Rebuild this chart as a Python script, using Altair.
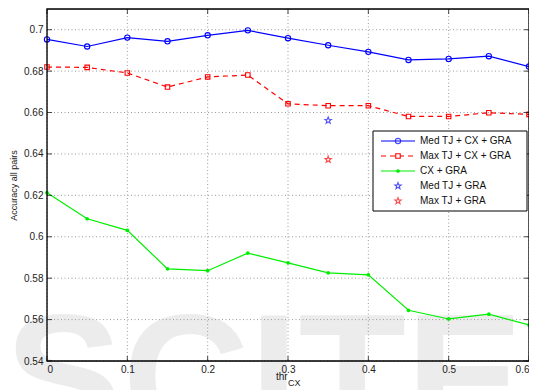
import math
import altair as alt
import pandas as pd

x_vals = [0, 0.05, 0.1, 0.15, 0.2, 0.25, 0.3, 0.35, 0.4, 0.45, 0.5, 0.55, 0.6]
med_cx_gra = [0.6953, 0.6919, 0.6962, 0.6944, 0.6973, 0.6997, 0.6959, 0.6925, 0.6893, 0.6854, 0.6859, 0.6872, 0.6822]
max_cx_gra = [0.6820, 0.6818, 0.6791, 0.6723, 0.6772, 0.6781, 0.6642, 0.6633, 0.6633, 0.6581, 0.6581, 0.6599, 0.6591]
cx_gra = [0.6213, 0.6087, 0.6031, 0.5845, 0.5836, 0.5921, 0.5874, 0.5826, 0.5816, 0.5645, 0.5603, 0.5626, 0.5574]
star_x = [0.35]
med_gra = [0.6562]
max_gra = [0.6373]

series_names = ["Med TJ + CX + GRA", "Max TJ + CX + GRA", "CX + GRA", "Med TJ + GRA", "Max TJ + GRA"]
x_ticks = [0, 0.1, 0.2, 0.3, 0.4, 0.5, 0.6]
y_ticks = [0.54, 0.56, 0.58, 0.6, 0.62, 0.64, 0.66, 0.68, 0.7]

W, H = 482, 352
FONT = "Liberation Sans"

pts = []
for k in range(10):
    r = 1.0 if k % 2 == 0 else 0.42
    a = math.radians(-90 + 36 * k)
    pts.append(f"{r*math.cos(a):.3f},{r*math.sin(a):.3f}")
STAR = "M" + "L".join(pts) + "Z"

xs = alt.Scale(domain=[0, 0.6], nice=False, zero=False)
ys = alt.Scale(domain=[0.54, 0.71], nice=False, zero=False)

x_enc = alt.X("x:Q", scale=xs, title=None,
              axis=alt.Axis(values=x_ticks, format="~g", grid=False, zindex=1,
                            ticks=False, labelPadding=3, labelFontSize=10, labelColor="#222",
                            domain=False))
y_enc = alt.Y("y:Q", scale=ys, title="Accuracy all pairs",
              axis=alt.Axis(values=y_ticks, format="~g", grid=False, zindex=1,
                            ticks=False, labelPadding=4, labelFontSize=10, labelColor="#222",
                            titleFontSize=9, titleFontWeight="normal", titlePadding=5, titleColor="#222",
                            domain=False))


def series_df(vals, xv):
    return pd.DataFrame({"x": xv, "y": vals})


one = pd.DataFrame({"a": [0]})

wm = alt.Chart(pd.DataFrame({"t": ["SCITE"]})).mark_text(
    align="left", baseline="alphabetic", fontSize=176, fontWeight="bold", font=FONT,
    color="#ececec", clip=False
).encode(text="t:N", x=alt.value(-42), y=alt.value(428))

xt = pd.DataFrame({"x": x_ticks})
yt = pd.DataFrame({"y": y_ticks})
grid_x = alt.Chart(xt).mark_rule(color="#9a9a9a", strokeWidth=1, strokeDash=[1, 2.5]).encode(
    x=alt.X("x:Q", scale=xs), y=alt.value(0), y2=alt.value(H))
grid_y = alt.Chart(yt).mark_rule(color="#9a9a9a", strokeWidth=1, strokeDash=[1, 2.5]).encode(
    y=alt.Y("y:Q", scale=ys), x=alt.value(0), x2=alt.value(W))

frame = alt.Chart(one).mark_rect(fillOpacity=0, fill="white", stroke="black", strokeWidth=1.3).encode(
    x=alt.value(0), x2=alt.value(W), y=alt.value(0), y2=alt.value(H))

med_line = alt.Chart(series_df(med_cx_gra, x_vals)).mark_line(
    color="#0000ff", strokeWidth=1.2,
    point=alt.OverlayMarkDef(shape="circle", filled=False, fill="white", fillOpacity=0, size=28, stroke="#0000ff", strokeWidth=1.1)
).encode(x=x_enc, y=y_enc)

max_line = alt.Chart(series_df(max_cx_gra, x_vals)).mark_line(
    color="#ff0000", strokeWidth=1.2, strokeDash=[5, 4],
    point=alt.OverlayMarkDef(shape="square", filled=False, size=20, stroke="#ff0000", strokeWidth=1.1, fillOpacity=0)
).encode(x="x:Q", y="y:Q")

cx_line = alt.Chart(series_df(cx_gra, x_vals)).mark_line(
    color="#00ee00", strokeWidth=1.2,
    point=alt.OverlayMarkDef(shape="circle", filled=True, size=14, color="#00ee00")
).encode(x="x:Q", y="y:Q")

med_star = alt.Chart(series_df(med_gra, star_x)).mark_point(
    shape=STAR, size=45, stroke="#0000ff", strokeWidth=1.1, filled=False
).encode(x="x:Q", y="y:Q")

max_star = alt.Chart(series_df(max_gra, star_x)).mark_point(
    shape=STAR, size=45, stroke="#ff0000", strokeWidth=1.1, filled=False
).encode(x="x:Q", y="y:Q")

# inward ticks on all four sides
tick_b = alt.Chart(xt).mark_tick(orient="vertical", size=5, thickness=1, color="black").encode(x="x:Q", y=alt.value(H - 2.5))
tick_t = alt.Chart(xt).mark_tick(orient="vertical", size=5, thickness=1, color="black").encode(x="x:Q", y=alt.value(2.5))
tick_l = alt.Chart(yt).mark_tick(orient="horizontal", size=5, thickness=1, color="black").encode(y="y:Q", x=alt.value(2.5))
tick_r = alt.Chart(yt).mark_tick(orient="horizontal", size=5, thickness=1, color="black").encode(y="y:Q", x=alt.value(W - 2.5))

# x title thr_CX
t_thr = alt.Chart(one).mark_text(text="thr", align="left", baseline="middle", fontSize=10, font=FONT, color="#222").encode(
    x=alt.value(229), y=alt.value(368))
t_cx = alt.Chart(one).mark_text(text="CX", align="left", baseline="middle", fontSize=9, font=FONT, color="#222").encode(
    x=alt.value(241), y=alt.value(374))

# legend
LX0, LX1 = 326, 480
LY0, LY1 = 122, 202
rows = [132, 147, 162, 177, 192]
legend_layers = [
    alt.Chart(one).mark_rect(fill="white", stroke="black", strokeWidth=1).encode(
        x=alt.value(LX0), x2=alt.value(LX1), y=alt.value(LY0), y2=alt.value(LY1))
]
colors = ["#0000ff", "#ff0000", "#00ee00", "#0000ff", "#ff0000"]
for i, name in enumerate(series_names):
    yy = rows[i]
    if i < 3:
        dash = [5, 4] if i == 1 else [1, 0]
        legend_layers.append(alt.Chart(one).mark_rule(color=colors[i], strokeWidth=1.2, strokeDash=dash).encode(
            x=alt.value(334), x2=alt.value(368), y=alt.value(yy)))
    if i == 0:
        mk = alt.Chart(one).mark_point(shape="circle", filled=False, size=28, stroke=colors[i], strokeWidth=1.1)
    elif i == 1:
        mk = alt.Chart(one).mark_point(shape="square", filled=False, size=20, stroke=colors[i], strokeWidth=1.1, fill="white", fillOpacity=1)
    elif i == 2:
        mk = alt.Chart(one).mark_point(shape="circle", filled=True, size=14, color=colors[i], opacity=1)
    else:
        mk = alt.Chart(one).mark_point(shape=STAR, filled=False, size=45, stroke=colors[i], strokeWidth=1.1)
    legend_layers.append(mk.encode(x=alt.value(351), y=alt.value(yy)))
    legend_layers.append(alt.Chart(one).mark_text(text=name, align="left", baseline="middle", fontSize=10, font=FONT, color="#111").encode(
        x=alt.value(373), y=alt.value(yy)))

chart = alt.layer(
    wm, grid_x, grid_y, med_line, max_line, cx_line, med_star, max_star,
    frame, tick_b, tick_t, tick_l, tick_r, t_thr, t_cx, *legend_layers
).properties(
    width=W, height=H,
    autosize=alt.AutoSizeParams(type="none"),
    padding={"left": 39, "top": 1, "right": 0, "bottom": 29},
).configure_view(
    strokeWidth=0
).configure(font=FONT, background="white")

chart.save("out.html", embed_options={"renderer": "svg", "actions": False})
